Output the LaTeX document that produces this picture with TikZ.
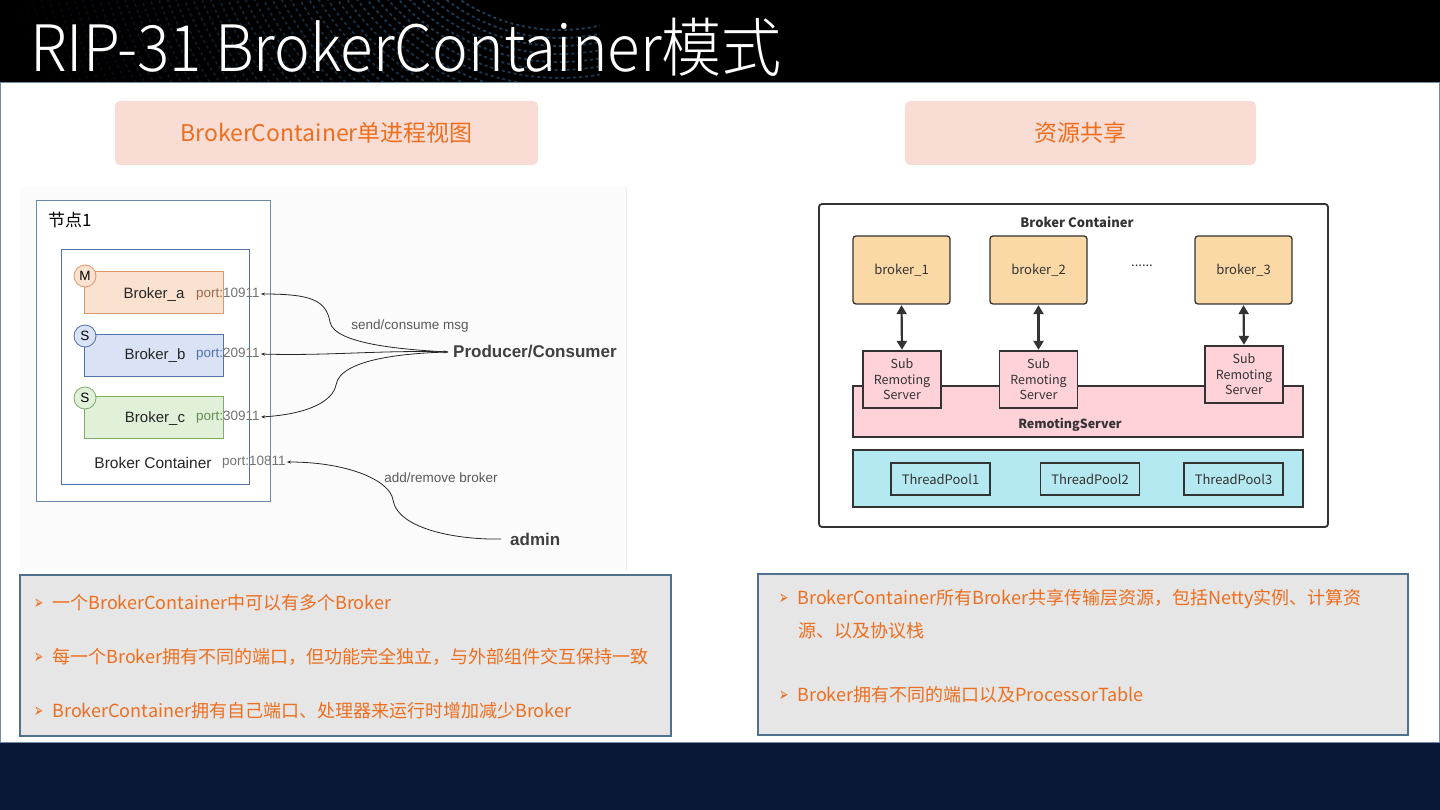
\documentclass[tikz,border=0pt]{standalone}
\usepackage{fontspec}
\usepackage{graphicx}
\setmainfont{Noto Sans CJK SC}
\newfontfamily\titlefont{Noto Sans CJK SC Light}
\newfontfamily\arial{Liberation Sans}
\newfontfamily\dejavu{DejaVu Sans}
\usetikzlibrary{arrows.meta,calc}
\definecolor{orangetxt}{HTML}{EE6E1E}
\definecolor{hdrpink}{HTML}{F9DCD4}
\definecolor{boxgray}{HTML}{E6E6E6}
\definecolor{boxborder}{HTML}{50708F}
\definecolor{navy}{HTML}{0B1737}
\definecolor{nodeblue}{HTML}{6A88AC}
\definecolor{aFill}{HTML}{FBE1D0}
\definecolor{aDraw}{HTML}{D9976A}
\definecolor{bFill}{HTML}{DAE3F5}
\definecolor{bDraw}{HTML}{5272AA}
\definecolor{cFill}{HTML}{E1F0D9}
\definecolor{cDraw}{HTML}{7DAE68}
\definecolor{peach}{HTML}{FBD9A6}
\definecolor{rpink}{HTML}{FFD1D9}
\definecolor{cyanish}{HTML}{B5E9F1}
\definecolor{dk}{HTML}{333333}
\newcommand{\bul}{\scalebox{0.55}[1]{\dejavu\fontsize{20}{20}\selectfont ➢}\hspace{9pt}}
\tikzset{
  hdrbox/.style={fill=hdrpink, rounded corners=5pt, draw=none, text=orangetxt, font=\fontsize{23}{26}\selectfont},
  txtbox/.style={fill=boxgray, draw=boxborder, line width=1.2pt},
  bullet/.style={text=orangetxt, font=\fontsize{18}{22}\selectfont, anchor=west, inner sep=0pt},
  brk/.style={minimum width=139pt, minimum height=42pt, line width=0.8pt, inner sep=0pt},
  role/.style={circle, minimum size=22pt, inner sep=0pt, line width=0.8pt, font=\arial\fontsize{13.5}{14}\selectfont},
  brklbl/.style={font=\arial\fontsize{15}{16}\selectfont, text=black!85},
  port/.style={font=\arial\fontsize{13.5}{14}\selectfont, inner sep=1pt},
  conn/.style={line width=0.8pt, black!85},
  graylbl/.style={font=\arial\fontsize{13.5}{14}\selectfont, text=black!65},
  boldlbl/.style={font=\arial\bfseries\fontsize{17}{19}\selectfont, text=black!75},
  rbroker/.style={fill=peach, draw=dk, line width=1.3pt, rounded corners=3pt, minimum width=97pt, minimum height=68pt, font=\fontsize{13}{15}\selectfont, text=black!80},
  srs/.style={fill=rpink, draw=dk, line width=1.3pt, minimum width=78pt, minimum height=57pt, align=center, font=\fontsize{12.5}{15.5}\selectfont, text=black!80, inner sep=0pt},
  tp/.style={draw=dk, line width=1.3pt, minimum width=99pt, minimum height=32pt, font=\fontsize{13}{15}\selectfont, text=black!80, inner sep=0pt},
  dbl/.style={line width=2.2pt, dk, {Triangle[width=10pt,length=9pt]}-{Triangle[width=10pt,length=9pt]}, shorten <=0.5pt, shorten >=0.5pt}
}
\begin{document}
\begin{tikzpicture}[x=1pt,y=-1pt]
\useasboundingbox (0,0) rectangle (1440,810);
% backgrounds
\fill[navy] (0,0) rectangle (1440,810);
\fill[black] (0,0) rectangle (1440,82);
% header dotted pattern
\begin{scope}
\clip (0,0) rectangle (600,82);
\foreach \r in {180,188,...,600}{
  \pgfmathsetmacro{\op}{max(0,0.9-\r/650)}
  \draw[color={rgb,255:red,45;green,100;blue,145}, line width=1.8pt, dash pattern=on 3pt off 3pt, opacity=\op] (560,-150) circle[radius=\r];
}
\end{scope}
% white panel
\fill[white] (0,82) rectangle (1440,742);
\draw[boxborder!80, line width=0.8pt] (0.5,82) rectangle (1439.5,742);
% title
\node[anchor=west, text=white, inner sep=0pt, font=\titlefont\fontsize{64}{66}\selectfont, xscale=0.94] (title) at (30,47) {RIP-31 BrokerContainer模式};

% section headers
\node[hdrbox, minimum width=423pt, minimum height=64pt] (h1) at (326.5,133) {BrokerContainer单进程视图};
\node[hdrbox, minimum width=351pt, minimum height=64pt] (h2) at (1080.5,133) {资源共享};

% ---------------- left diagram ----------------
\fill[black!1.5] (20,187) rectangle (627,570);
\draw[black!8, line width=0.8pt] (626.5,187) -- (626.5,570);
\node[draw=nodeblue, fill=white, line width=0.9pt, minimum width=234pt, minimum height=301pt, inner sep=0pt] (node1) at (153,350.5) {};
\node[anchor=west, font=\fontsize{17}{19}\selectfont, inner sep=0pt] (n1lbl) at (48,220) {节点1};
\node[draw=bDraw, fill=white, line width=0.9pt, minimum width=188pt, minimum height=235pt, inner sep=0pt] (cont) at (155,366.5) {};

\node[brk, fill=aFill, draw=aDraw] (ba) at (153.5,292) {};
\node[brk, fill=bFill, draw=bDraw] (bb) at (153.5,355) {};
\node[brk, fill=cFill, draw=cDraw] (bc) at (153.5,417.5) {};
\node[role, fill=aFill, draw=aDraw] (ma) at (85,276) {M};
\node[role, fill=bFill, draw=bDraw] (sb) at (85,336) {S};
\node[role, fill=cFill, draw=cDraw] (sc) at (85,398) {S};
\node[brklbl] (la) at (154,295) {Broker\_a};
\node[brklbl] (lb) at (155,356) {Broker\_b};
\node[brklbl] (lc) at (155,419) {Broker\_c};
\node[port, anchor=west, text=black!55] (pa) at (195,294) {\textcolor{aDraw!70!black}{port:}10911};
\node[port, anchor=west, text=black!55] (pb) at (195,354) {\textcolor{bDraw}{port:}20911};
\node[port, anchor=west, text=black!55] (pc) at (195,417) {\textcolor{cDraw!80!black}{port:}30911};
\node[brklbl, font=\arial\fontsize{15.5}{16}\selectfont] (bcl) at (153,463) {Broker Container};
\node[port, anchor=west, text=black!55] (pd) at (221,462) {port:10811};

\node[boldlbl, anchor=west, inner sep=1pt] (pc2) at (452,352) {Producer/Consumer};
\node[boldlbl, anchor=west, inner sep=1pt] (adm) at (509,539) {admin};
\node[graylbl] (scm) at (410,326) {send/consume msg};
\node[graylbl] (arb) at (441,478) {add/remove broker};
\coordinate (pcin) at ($(pc2.west)+(-4,0)$);
\coordinate (admin) at ($(adm.west)+(-8,0)$);

\draw[conn, {Stealth[length=4pt,width=3pt]}-] (pa.east) .. controls +(50,0) and (326,300) .. (330,322) .. controls (334,345) and (410,350) .. (pcin);
\draw[conn, {Stealth[length=4pt,width=3pt]}-{Stealth[length=4pt,width=3pt]}] (pb.east) .. controls (330,356) and (380,350) .. (pcin);
\draw[conn, {Stealth[length=4pt,width=3pt]}-] (pc.east) .. controls +(50,-3) and (333,400) .. (336,385) .. controls (340,358) and (410,353) .. (pcin);
\draw[conn, {Stealth[length=4pt,width=3pt]}-] (pd.east) .. controls +(60,0) and (390,480) .. (393,500) .. controls (398,530) and (460,540) .. (admin);

% ---------------- right diagram ----------------
\node[draw=dk, fill=white, line width=1.8pt, rounded corners=3pt, minimum width=509pt, minimum height=323pt, inner sep=0pt] (bcbox) at (1073.5,365.5) {};
\node[font=\bfseries\fontsize{13}{15}\selectfont, text=black!80] (bct) at (1077,222) {Broker Container};
\node[rbroker] (b1) at (901.5,270) {broker\_1};
\node[rbroker] (b2) at (1038.5,270) {broker\_2};
\node[rbroker] (b3) at (1243.5,270) {broker\_3};
\node[font=\fontsize{13}{15}\selectfont, text=black!80] (dots) at (1142,266) {......};

\node[fill=rpink, draw=dk, line width=1.3pt, minimum width=450pt, minimum height=51pt, inner sep=0pt] (rs) at (1078,411.5) {};
\node[font=\bfseries\fontsize{12.5}{15}\selectfont, text=black!80] (rsl) at (1070,425) {RemotingServer};
\node[srs] (s1) at (902,379.5) {Sub\\Remoting\\Server};
\node[srs] (s2) at (1038.5,379.5) {Sub\\Remoting\\Server};
\node[srs] (s3) at (1244,374.5) {Sub\\Remoting\\Server};

\node[fill=cyanish, draw=dk, line width=1.3pt, minimum width=450pt, minimum height=57pt, inner sep=0pt] (tpb) at (1078,478.5) {};
\node[tp] (t1) at (940.5,479) {ThreadPool1};
\node[tp] (t2) at (1090,479) {ThreadPool2};
\node[tp] (t3) at (1233.5,479) {ThreadPool3};

\draw[dbl] (b1.south) -- (s1.north);
\draw[dbl] (b2.south) -- (s2.north);
\draw[dbl] (b3.south) -- (s3.north);

% ---------------- text boxes ----------------
\node[txtbox, minimum width=651pt, minimum height=161pt, inner sep=0pt] (tb1) at (345.5,655.5) {};
\node[bullet] (l1) at (34,603) {\bul 一个BrokerContainer中可以有多个Broker};
\node[bullet] (l2) at (34,657) {\bul 每一个Broker拥有不同的端口，但功能完全独立，与外部组件交互保持一致};
\node[bullet] (l3) at (34,711) {\bul BrokerContainer拥有自己端口、处理器来运行时增加减少Broker};

\node[txtbox, minimum width=650pt, minimum height=161pt, inner sep=0pt] (tb2) at (1083,654.5) {};
\node[bullet] (r1) at (779,599) {\bul BrokerContainer所有Broker共享传输层资源，包括Netty实例、计算资};
\node[bullet] (r1b) at (798,631) {源、以及协议栈};
\node[bullet] (r2) at (779,695) {\bul Broker拥有不同的端口以及ProcessorTable};
\end{tikzpicture}
\end{document}
